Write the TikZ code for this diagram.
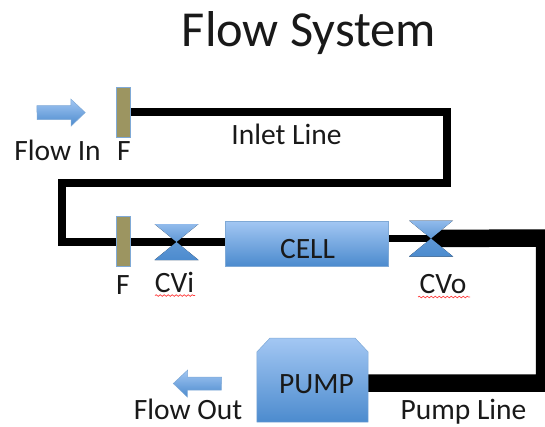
\documentclass[tikz,border=0pt]{standalone}
\usepackage{fontspec}
\setmainfont{Carlito}
\usetikzlibrary{decorations.pathmorphing,backgrounds}
\tikzset{
  x=1pt,y=-1pt,
  blueshade/.style={top color=blue1,bottom color=blue2,draw=blue3,line width=0.5pt},
  cellbox/.style={blueshade,rectangle,inner sep=0pt,minimum width=163pt,minimum height=45pt},
  pumpanchor/.style={rectangle,inner sep=0pt,minimum width=111pt,minimum height=84pt},
  filterbox/.style={rectangle,fill=filterc,draw=blue3,line width=0.6pt,inner sep=0pt,minimum width=14pt,minimum height=50pt},
  arrowanchor/.style={rectangle,inner sep=0pt,minimum width=48pt,minimum height=27pt},
  thinpipe/.style={draw=black,line width=7.5pt,line cap=butt,line join=miter},
  thickpipe/.style={draw=black,line width=17.5pt,line cap=butt,line join=miter},
  lbl/.style={font=\fontsize{29.5}{32}\selectfont,text=black!90,inner sep=0pt,anchor=base},
  squiggle/.style={draw=red!75!white,line width=0.7pt,decorate,decoration={snake,amplitude=0.8pt,segment length=4pt}},
}
\definecolor{blue1}{HTML}{A3C7F3}
\definecolor{blue2}{HTML}{4C8BCE}
\definecolor{blue3}{HTML}{7FA9D6}
\definecolor{filterc}{HTML}{9C9561}
\newcommand{\valvetie}[1]{%
  \fill[top color=blue1!80!blue2,bottom color=blue2,middle color=blue2!80!blue1]
    (#1) ++(-22,-18) -- ++(44,0) -- ++(-44,36) -- ++(44,0) -- cycle;
}
\begin{document}
\begin{tikzpicture}
\useasboundingbox (0,0) rectangle (545,426);
\node[lbl,font=\fontsize{50.4}{54}\selectfont] (title) at (309,46) {Flow System};
\node[arrowanchor] (flowin) at (61,112.5) {};
\draw[blueshade] (flowin.west) ++(0,-7) -- ++(34,0) -- ++(0,-6.5) -- (flowin.east) -- ++(-14,13.5) -- ++(0,-6.5) -- ++(-34,0) -- cycle;
\node[filterbox] (f1) at (123,112) {};
\node[filterbox] (f2) at (123,241.5) {};
\node[cellbox] (cell) at (306.5,243.5) {};
\node[lbl] at (307.5,258) {CELL};
\coordinate (cvi) at (176.5,242);
\coordinate (cvo) at (431,238.5);
\node[pumpanchor] (pump) at (312.5,380) {};
\draw[blueshade] (pump.south west) -- (pump.west |- 0,352) -- (270,338) -- (355,338) -- (pump.east |- 0,352) -- (pump.south east) -- cycle;
\node[lbl] at (316.5,393) {PUMP};
\node[arrowanchor] (flowout) at (197.5,383.5) {};
\draw[blueshade] (flowout.east) ++(0,-6.5) -- ++(-34,0) -- ++(0,-7) -- (flowout.west) -- ++(14,13.5) -- ++(0,-7) -- ++(34,0) -- cycle;
\coordinate (i1) at (447,112);
\coordinate (i2) at (447,183);
\coordinate (i3) at (62,183);
\coordinate (i4) at (62,242);
\coordinate (r1) at (544.5,238);
\coordinate (r2) at (544.5,383);
\begin{scope}[on background layer]
  \draw[thinpipe] (f1.east) -- (i1) -- (i2) -- (i3) -- (i4) -- (f2.west |- i4);
  \draw[thinpipe] (f2.east |- cvi) -- (cell.west |- cvi);
  \draw[thinpipe] (cell.east |- cvo) -- (cvo);
  \draw[thickpipe] (cvo) -- (r1) -- (r2) -- (pump.east |- r2);
\end{scope}
\valvetie{cvi}
\valvetie{cvo}
\node[lbl] at (57.5,160) {Flow In};
\node[lbl] at (124,160) {F};
\node[lbl] at (286.5,144) {Inlet Line};
\node[lbl] at (123,294) {F};
\node[lbl] (cvit) at (174.5,292) {CVi};
\node[lbl] (cvot) at (443,293) {CVo};
\node[lbl] at (188,419) {Flow Out};
\node[lbl] at (463.5,419) {Pump Line};
\draw[squiggle] (155,295.5) -- (195,295.5);
\draw[squiggle] (418,297) -- (470,297);
\end{tikzpicture}
\end{document}
